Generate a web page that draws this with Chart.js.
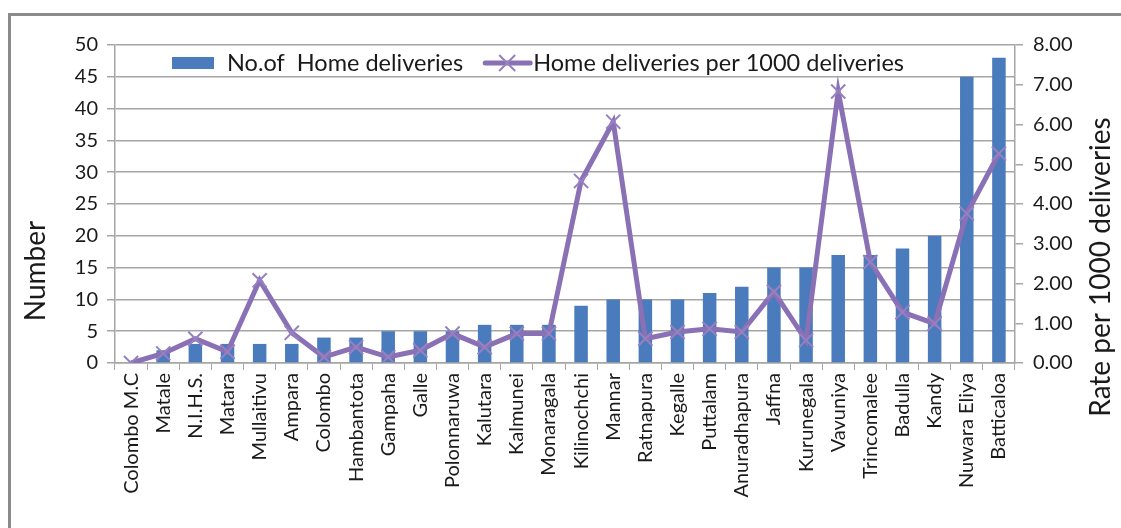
<!DOCTYPE html>
<html>
<head>
<meta charset="utf-8">
<script src="https://cdn.jsdelivr.net/npm/chart.js@4"></script>
<style>
  html, body { margin: 0; padding: 0; background: #fff; overflow: hidden; }
  #wrap { position: relative; width: 1121px; height: 528px; }
  #frame { position: absolute; left: 8px; top: 13px; width: 1200px; height: 600px;
           border-top: 3px solid #8a8a8a; border-left: 3px solid #8a8a8a; }
  canvas { position: absolute; left: 0; top: 0; }
</style>
</head>
<body>
<div id="wrap">
  <div id="frame"></div>
  <canvas id="chart" width="1121" height="528"></canvas>
</div>
<script>
const districts = ['Colombo M.C', 'Matale', 'N.I.H.S.', 'Matara', 'Mullaitivu', 'Ampara', 'Colombo',
  'Hambantota', 'Gampaha', 'Galle', 'Polonnaruwa', 'Kalutara', 'Kalmunei', 'Monaragala',
  'Kilinochchi', 'Mannar', 'Ratnapura', 'Kegalle', 'Puttalam', 'Anuradhapura', 'Jaffna',
  'Kurunegala', 'Vavuniya', 'Trincomalee', 'Badulla', 'Kandy', 'Nuwara Eliya', 'Batticaloa'];
const homeDeliveries = [0, 2, 3, 3, 3, 3, 4, 4, 5, 5, 5, 6, 6, 6, 9, 10, 10, 10, 11, 12, 15, 15, 17, 17, 18, 20, 45, 48];
const ratePer1000 = [0.00, 0.24, 0.61, 0.28, 2.08, 0.76, 0.15, 0.40, 0.15, 0.32, 0.74, 0.40, 0.74, 0.74,
  4.58, 6.07, 0.61, 0.78, 0.86, 0.78, 1.79, 0.57, 6.83, 2.54, 1.28, 0.99, 3.76, 5.27];
const leftTitle = 'Number';
const rightTitle = 'Rate per 1000 deliveries';

const FONT = 'Lato, "DejaVu Sans", sans-serif';
const textColor = '#1a1a1a';
const barColor = '#4a7bbd';
const lineColor = '#8a70b4';
const gridColor = '#a6a6a6';

function vertText(ctx, text, x, y) {
  ctx.save();
  ctx.translate(x, y);
  ctx.rotate(-Math.PI / 2);
  ctx.textAlign = 'center';
  ctx.textBaseline = 'middle';
  ctx.fillText(text, 0, 0);
  ctx.restore();
}

// legend inside the plot area + both axis titles, read bottom-to-top
const extras = {
  id: 'extras',
  afterDraw(chart) {
    const ctx = chart.ctx;
    const area = chart.chartArea;
    const y = area.top + 18;
    const bars = chart.data.datasets.find(d => d.type !== 'line');
    const line = chart.data.datasets.find(d => d.type === 'line');
    ctx.save();
    ctx.font = '23.5px ' + FONT;
    ctx.textBaseline = 'middle';
    let x = area.left + 57;
    ctx.fillStyle = bars.backgroundColor;
    ctx.fillRect(x, y - 6, 42, 12);
    ctx.fillStyle = textColor;
    ctx.fillText(bars.label, x + 55, y);
    x += 55 + ctx.measureText(bars.label).width + 22;
    ctx.strokeStyle = line.borderColor;
    ctx.lineWidth = 5;
    ctx.lineCap = 'round';
    ctx.beginPath(); ctx.moveTo(x, y); ctx.lineTo(x + 45, y); ctx.stroke();
    ctx.strokeStyle = line.pointBorderColor;
    ctx.lineWidth = 2;
    ctx.lineCap = 'butt';
    const cx = x + 22, r = 8;
    ctx.beginPath();
    ctx.moveTo(cx - r, y - r); ctx.lineTo(cx + r, y + r);
    ctx.moveTo(cx - r, y + r); ctx.lineTo(cx + r, y - r);
    ctx.stroke();
    ctx.fillStyle = textColor;
    ctx.fillText(line.label, x + 48, y);

    ctx.font = '28px ' + FONT;
    vertText(ctx, leftTitle, 36, 271);
    vertText(ctx, rightTitle, chart.scales.y1.right - 20, 267);
    ctx.restore();
  }
};

new Chart(document.getElementById('chart'), {
  type: 'bar',
  data: {
    labels: districts,
    datasets: [
      {
        type: 'line',
        label: 'Home deliveries per 1000 deliveries',
        data: ratePer1000,
        yAxisID: 'y1',
        borderColor: lineColor,
        backgroundColor: lineColor,
        pointBorderColor: '#9680c0',
        borderWidth: 5,
        pointStyle: 'crossRot',
        pointRadius: 10,
        pointBorderWidth: 2,
        tension: 0,
        order: 0
      },
      {
        type: 'bar',
        label: 'No.of  Home deliveries',
        data: homeDeliveries,
        yAxisID: 'y',
        backgroundColor: barColor,
        barPercentage: 0.42,
        categoryPercentage: 1,
        order: 1
      }
    ]
  },
  options: {
    responsive: false,
    animation: false,
    layout: { padding: { top: 45, left: 0, right: 0, bottom: 0 } },
    plugins: { legend: { display: false }, tooltip: { enabled: false } },
    scales: {
      x: {
        grid: { display: true, drawOnChartArea: false, drawTicks: true, tickLength: 7, color: gridColor, offset: true },
        border: { color: gridColor, width: 1.5 },
        ticks: { color: textColor, font: { family: FONT, size: 20 }, maxRotation: 90, minRotation: 90, padding: 3, autoSkip: false },
        afterFit(scale) { scale.height = 165; }
      },
      y: {
        position: 'left',
        min: 0, max: 50,
        ticks: { stepSize: 5, color: textColor, font: { family: FONT, size: 20 }, padding: 9 },
        grid: { color: gridColor, lineWidth: 1.5, tickLength: 8 },
        border: { color: gridColor, width: 1.5 },
        afterFit(scale) { scale.width = 115; }
      },
      y1: {
        position: 'right',
        min: 0, max: 8,
        ticks: { stepSize: 1, color: textColor, font: { family: FONT, size: 20 }, padding: 10,
                 callback: v => v.toFixed(2) },
        grid: { drawOnChartArea: false, color: gridColor, lineWidth: 1.5, tickLength: 8 },
        border: { color: gridColor, width: 1.5 },
        afterFit(scale) { scale.width = 106; }
      }
    }
  },
  plugins: [extras]
});
</script>
</body>
</html>
